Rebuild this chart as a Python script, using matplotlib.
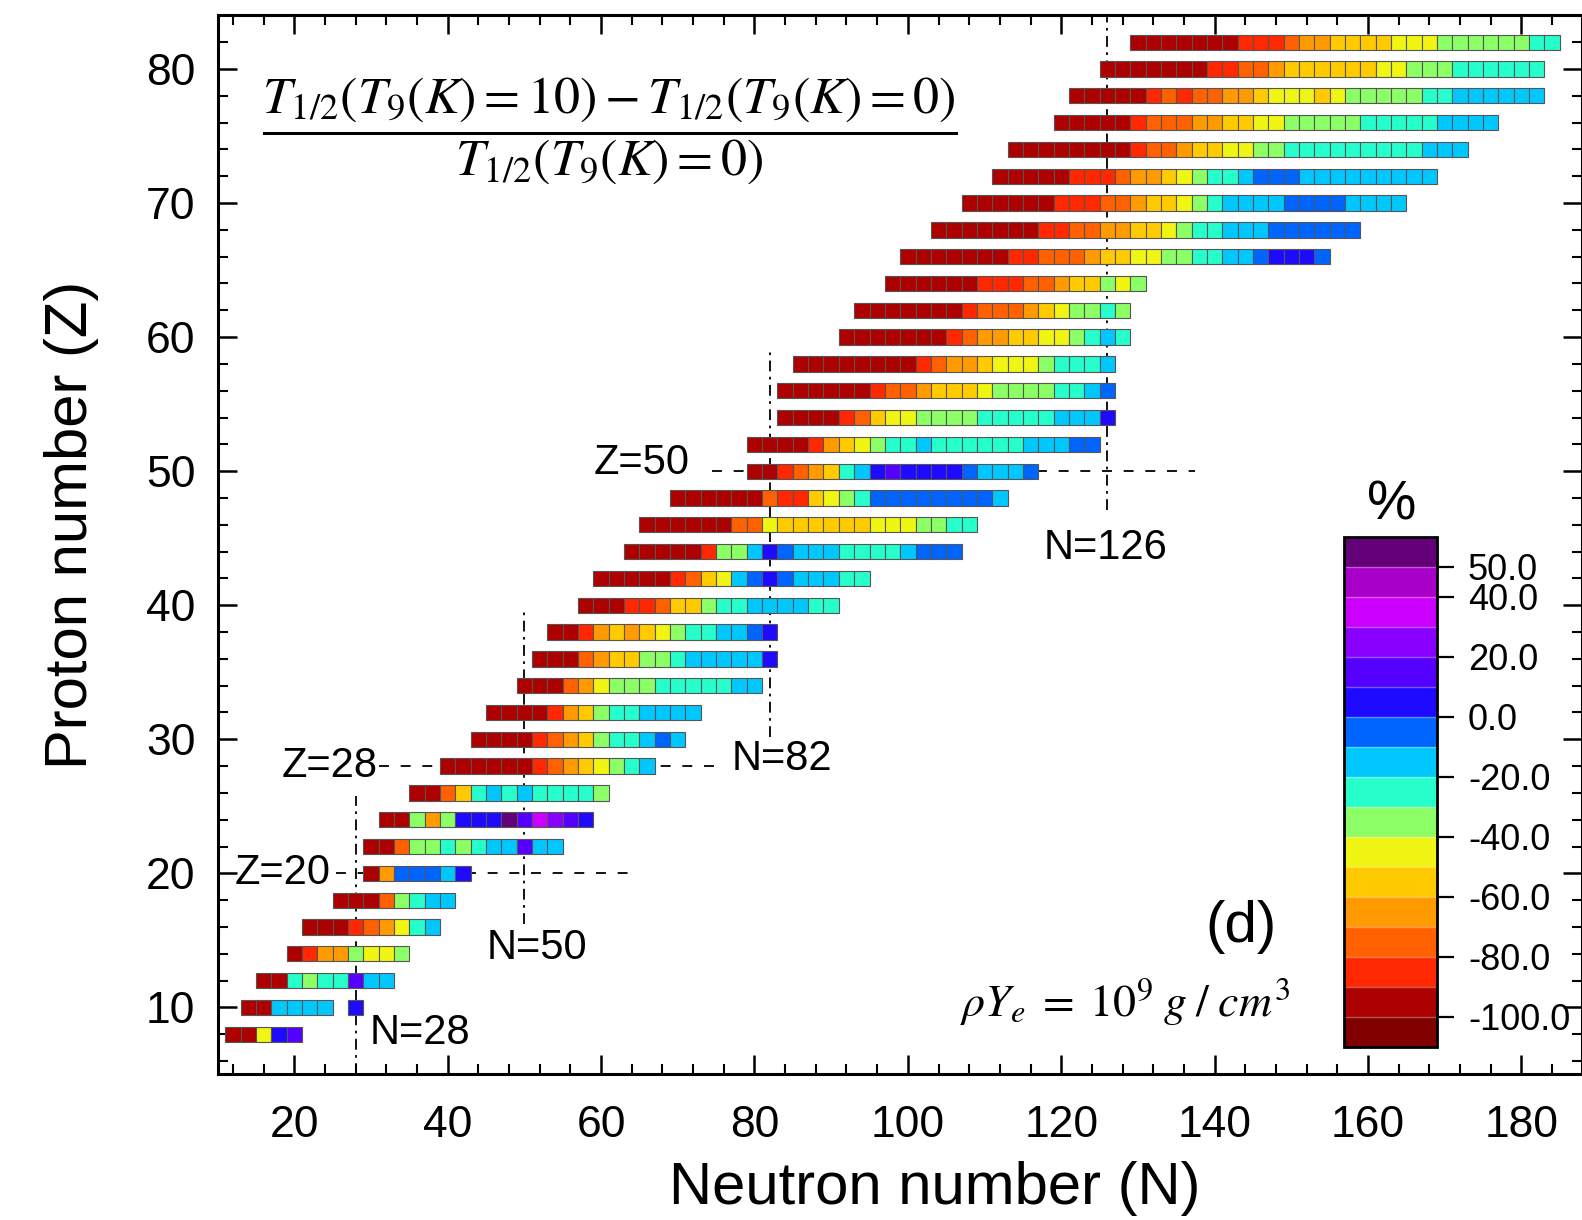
import numpy as np
import matplotlib
matplotlib.use("Agg")
import matplotlib as mpl
import matplotlib.pyplot as plt
from matplotlib.colors import ListedColormap, BoundaryNorm

plt.rcParams['font.family'] = ['Liberation Sans', 'DejaVu Sans']
plt.rcParams['mathtext.fontset'] = 'stix'
plt.rcParams['axes.unicode_minus'] = False

# ---------------- data (percent change) ----------------
Z_rows = [8, 10, 12, 14, 16, 18, 20, 22, 24, 26, 28, 30, 32, 34, 36, 38, 40, 42, 44,
          46, 48, 50, 52, 54, 56, 58, 60, 62, 64, 66, 68, 70, 72, 74, 76, 78, 80, 82]
N_start = [12, 14, 16, 20, 22, 26, 30, 30, 32, 36, 40, 44, 46, 50, 52, 54, 58, 60, 64,
           66, 70, 80, 80, 84, 84, 86, 92, 94, 98, 100, 104, 108, 112, 114, 120, 122, 126, 130]

pct_Z08 = [-95, -95, -45, 5, 15]
pct_Z10 = [-95, -95, -15, -15, -15, -15, None, 5]
pct_Z12 = [-95, -95, -25, -35, -25, -25, 15, -15, -15]
pct_Z14 = [-95, -85, -65, -65, -35, -45, -45, -35]
pct_Z16 = [-95, -95, -95, -85, -75, -65, -45, -25, -15]
pct_Z18 = [-95, -95, -95, -75, -35, -25, -15, -15]
pct_Z20 = [-95, -65, -5, -5, -5, -15, 5]
pct_Z22 = [-95, -95, -75, -35, -35, -25, -35, -25, -15, -15, 15, -15, -15]
pct_Z24 = [-95, -95, -35, -65, -35, 5, 5, 5, 55, 15, 35, 25, 15, 5]
pct_Z26 = [-95, -95, -75, -55, -25, -15, -25, -15, -25, -25, -25, -25, -35]
pct_Z28 = [-95, -95, -95, -95, -95, -95, -85, -75, -65, -55, -45, -35, -25, -15]
pct_Z30 = [-95, -95, -95, -95, -85, -75, -65, -55, -35, -25, -25, -15, -5, -15]
pct_Z32 = [-95, -95, -95, -95, -85, -65, -55, -35, -25, -25, -15, -15, -15, -15]
pct_Z34 = [-95, -95, -95, -75, -65, -45, -35, -35, -35, -25, -25, -25, -25, -25, -15, -15]
pct_Z36 = [-95, -95, -95, -75, -65, -55, -55, -35, -35, -25, -15, -15, -15, -15, -15, 5]
pct_Z38 = [-95, -95, -85, -65, -55, -65, -55, -45, -35, -25, -25, -15, -15, -5, 5]
pct_Z40 = [-95, -95, -95, -85, -85, -75, -55, -55, -35, -25, -25, -15, -15, -15, -15, -25, -25]
pct_Z42 = [-95, -95, -95, -95, -95, -85, -75, -55, -45, -15, -5, 5, -5, -15, -15, -15, -25, -25]
pct_Z44 = [-95, -95, -95, -95, -95, -85, -35, -35, -15, 5, -5, -15, -15, -15, -25, -25, -25,
           -25, -15, -5, -5, -5]
pct_Z46 = [-95, -95, -95, -95, -95, -95, -75, -75, -45, -55, -55, -55, -55, -55, -55, -45, -45,
           -45, -35, -35, -25, -25]
pct_Z48 = [-95, -95, -95, -95, -95, -95, -75, -85, -85, -55, -45, -35, -25, -5, -5, -5, -5,
           -5, -5, -5, -5, -15]
pct_Z50 = [-95, -95, -85, -75, -65, -55, -25, -15, 5, 15, 5, 5, 5, 5, -5, -15, -15, -15, -5]
pct_Z52 = [-95, -95, -95, -95, -85, -65, -55, -45, -35, -25, -25, -15, -25, -25, -25, -25, -25,
           -25, -15, -15, -15, -5, -5]
pct_Z54 = [-95, -95, -95, -95, -85, -75, -55, -45, -45, -35, -35, -35, -35, -25, -25, -25, -25,
           -25, -15, -15, -15, 5]
pct_Z56 = [-95, -95, -95, -95, -95, -95, -85, -75, -75, -65, -55, -55, -55, -45, -35, -35, -35,
           -35, -25, -25, -15, -5]
pct_Z58 = [-95, -95, -95, -95, -95, -95, -95, -95, -85, -75, -65, -65, -55, -45, -45, -45, -35,
           -25, -25, -25, -15]
pct_Z60 = [-95, -95, -95, -95, -95, -95, -95, -85, -75, -65, -65, -55, -55, -45, -45, -35, -25,
           -15, -25]
pct_Z62 = [-95, -95, -95, -95, -95, -95, -95, -85, -75, -75, -75, -65, -55, -45, -35, -35, -25, -35]
pct_Z64 = [-95, -95, -95, -95, -95, -95, -85, -85, -85, -75, -75, -65, -55, -55, -35, -45, -35]
pct_Z66 = [-95, -95, -95, -95, -95, -95, -95, -85, -85, -75, -75, -75, -65, -55, -55, -45, -45,
           -35, -35, -25, -25, -15, -15, -5, 5, 5, 5, -5]
pct_Z68 = [-95, -95, -95, -95, -95, -95, -95, -85, -85, -75, -75, -65, -65, -55, -55, -45, -35,
           -25, -25, -15, -15, -15, -5, -5, -5, -5, -5, -5]
pct_Z70 = [-95, -95, -95, -95, -95, -95, -85, -85, -85, -75, -75, -65, -55, -55, -45, -35, -25,
           -15, -15, -15, -15, -5, -5, -5, -5, -15, -15, -15, -15]
pct_Z72 = [-95, -95, -95, -95, -95, -85, -85, -85, -75, -65, -65, -55, -45, -35, -25, -25, -15,
           -5, -5, -5, -15, -15, -15, -15, -15, -15, -15, -15, -15]
pct_Z74 = [-95, -95, -95, -95, -95, -95, -95, -95, -85, -75, -75, -65, -55, -55, -45, -45, -35,
           -35, -25, -25, -25, -25, -25, -25, -25, -25, -25, -15, -15, -15]
pct_Z76 = [-95, -95, -95, -95, -95, -85, -75, -75, -75, -65, -65, -55, -55, -45, -45, -35, -35,
           -35, -35, -35, -25, -25, -25, -25, -25, -15, -15, -15, -15]
pct_Z78 = [-95, -95, -95, -95, -95, -85, -75, -85, -75, -75, -65, -65, -55, -45, -45, -45, -55,
           -45, -35, -35, -35, -35, -35, -25, -25, -15, -15, -15, -15, -15, -15]
pct_Z80 = [-95, -95, -95, -95, -95, -95, -95, -85, -85, -75, -75, -65, -55, -55, -55, -55, -55,
           -55, -45, -45, -35, -35, -35, -25, -25, -25, -25, -25, -25]
pct_Z82 = [-95, -95, -95, -95, -95, -95, -95, -85, -85, -85, -75, -65, -65, -55, -55, -55, -55,
           -45, -45, -45, -35, -35, -35, -35, -35, -35, -25, -25]

pct_rows = [pct_Z08, pct_Z10, pct_Z12, pct_Z14, pct_Z16, pct_Z18, pct_Z20, pct_Z22, pct_Z24,
            pct_Z26, pct_Z28, pct_Z30, pct_Z32, pct_Z34, pct_Z36, pct_Z38, pct_Z40, pct_Z42,
            pct_Z44, pct_Z46, pct_Z48, pct_Z50, pct_Z52, pct_Z54, pct_Z56, pct_Z58, pct_Z60,
            pct_Z62, pct_Z64, pct_Z66, pct_Z68, pct_Z70, pct_Z72, pct_Z74, pct_Z76, pct_Z78,
            pct_Z80, pct_Z82]

cbar_bounds = [-110, -100, -90, -80, -70, -60, -50, -40, -30, -20, -10, 0, 10, 20, 30, 40, 50, 60]
cbar_colors = ['#800000', '#ad0000', '#ff2800', '#ff6000', '#ff9a00', '#ffcb00', '#f0f514',
               '#8cff66', '#26ffcc', '#00c8ff', '#0064ff', '#1e0aff', '#5500ff', '#8a00ff',
               '#cc00ff', '#a800c8', '#640078']
cbar_ticks = [-100, -80, -60, -40, -20, 0, 20, 40, 50]

magic_N = [28, 50, 82, 126]
magic_Z = [20, 28, 50]

# ---------------- figure ----------------
fig = plt.figure(figsize=(15.82, 12.2), dpi=100)
ax = fig.add_axes([0.13755, 0.1193, 0.86245, 0.8681])

cmap = ListedColormap(cbar_colors)
norm = BoundaryNorm(cbar_bounds, cmap.N)

cell_h = 1.14
for Z, n0, vals in zip(Z_rows, N_start, pct_rows):
    Ns = [n0 + 2 * i for i, v in enumerate(vals) if v is not None]
    vs = np.array([v for v in vals if v is not None], dtype=float)
    ax.bar(Ns, cell_h, width=2.0, bottom=Z - cell_h / 2, color=cmap(norm(vs)),
           edgecolor='#555555', linewidth=0.8, zorder=3)

# magic-number guide lines
vstyle = dict(color='black', lw=1.3, ls=(0, (6, 3, 1.5, 3)), zorder=2)
hstyle = dict(color='black', lw=1.3, ls=(0, (5.5, 6.5)), zorder=2)
ax.plot([magic_N[0]] * 2, [5, 25.8], **vstyle)
ax.plot([magic_N[1]] * 2, [16.2, 39.6], **vstyle)
ax.plot([magic_N[2]] * 2, [30.2, 59.2], **vstyle)
ax.plot([magic_N[3]] * 2, [47.1, 84], **vstyle)
ax.plot([25.4, 63.5], [magic_Z[0]] * 2, **hstyle)
ax.plot([31.0, 75.0], [magic_Z[1]] * 2, **hstyle)
ax.plot([74.4, 137.5], [magic_Z[2]] * 2, **hstyle)

lab_fs = 30
ax.text(24.7, 20, 'Z=20', fontsize=lab_fs, ha='right', va='center')
ax.text(30.8, 28, 'Z=28', fontsize=lab_fs, ha='right', va='center')
ax.text(71.6, 50.6, 'Z=50', fontsize=lab_fs, ha='right', va='center')
ax.text(29.8, 8.1, 'N=28', fontsize=lab_fs, ha='left', va='center')
ax.text(45.1, 14.4, 'N=50', fontsize=lab_fs, ha='left', va='center')
ax.text(77.0, 28.5, 'N=82', fontsize=lab_fs, ha='left', va='center')
ax.text(117.7, 44.3, 'N=126', fontsize=lab_fs, ha='left', va='center')

ax.text(143.4, 16.0, '(d)', fontsize=42, ha='center', va='center')
ax.text(128.3, 10.4, r'$\rho Y_e \;=\; 10^9\; g\; /\; cm^3$', fontsize=33, ha='center', va='center')
ax.text(61.2, 75.4,
        r'$\dfrac{T_{1/2}\left(T_9\left(K\right)=10\right)-T_{1/2}\left(T_9\left(K\right)=0\right)}'
        r'{T_{1/2}\left(T_9\left(K\right)=0\right)}$',
        fontsize=37.5, ha='center', va='center')

ax.set_xlim(10, 187.9)
ax.set_ylim(5, 84)
ax.set_xticks(np.arange(20, 181, 20))
ax.set_xticks(np.arange(12, 188, 4), minor=True)
ax.set_yticks(np.arange(10, 81, 10))
ax.set_yticks(np.arange(6, 84, 2), minor=True)
ax.tick_params(which='major', direction='in', length=14, width=1.8, top=True, right=True,
               labelsize=32)
ax.tick_params(which='minor', direction='in', length=7, width=1.5, top=True, right=True)
ax.tick_params(axis='x', which='major', pad=22)
ax.tick_params(axis='y', which='major', pad=16)
for sp in ax.spines.values():
    sp.set_linewidth(2.2)

fig.text(935 / 1582, 1 - 1188 / 1220, 'Neutron number (N)', fontsize=43, ha='center', va='center')
fig.text(72 / 1582, 1 - 525 / 1220, 'Proton number (Z)', fontsize=43, ha='center', va='center',
         rotation=90)

# colorbar
cax = fig.add_axes([0.8496, 0.142, 0.059, 0.418])
sm = mpl.cm.ScalarMappable(norm=norm, cmap=cmap)
cb = fig.colorbar(sm, cax=cax, ticks=cbar_ticks, drawedges=True)
cb.ax.set_yticklabels(['%.1f' % t for t in cbar_ticks])
cb.dividers.set_color('white')
cb.dividers.set_alpha(0.35)
cb.dividers.set_linewidth(1.0)
cb.outline.set_linewidth(2.0)
cax.tick_params(direction='out', length=12, width=1.6, labelsize=26, pad=10)
cax.minorticks_off()
fig.text(1392 / 1582, 1 - 505 / 1220, '%', fontsize=40, ha='center', va='center')

fig.savefig('out.png', dpi=100)
